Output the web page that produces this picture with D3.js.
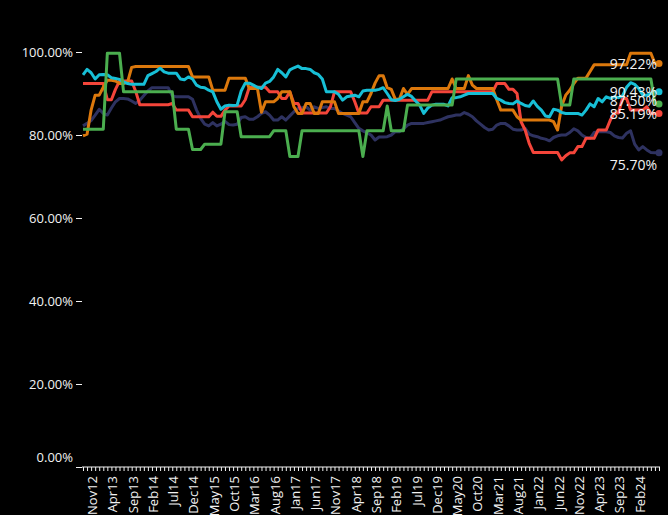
<!DOCTYPE html>
<html>
<head>
<meta charset="utf-8">
<script src="https://cdn.jsdelivr.net/npm/d3@7"></script>
<style>
  html, body { margin: 0; padding: 0; background: #000; }
  svg { display: block; }
  .axis text { fill: #f2f2f2; font-family: "Open Sans", sans-serif; }
  .axis line, .axis path { stroke: #f2f2f2; }
</style>
</head>
<body>
<svg id="chart" width="668" height="515"></svg>
<script>
// Monthly observations, Nov 2012 through Sep 2024
const firstMonth = new Date(2012, 10, 1);
const lastMonth = new Date(2024, 8, 1);

const yTicks = [0, 20, 40, 60, 80, 100];

const seriesOrange = [
  79.8,80.2,86,89.6,89.6,91.5,93.2,93.2,93,92.4,
  92.4,92.8,96.3,96.5,96.5,96.5,96.5,96.5,96.5,96.5,
  96.5,96.5,96.5,96.5,96.5,96.5,96.5,94,94,94,
  94,94,90.8,90.8,90.8,90.8,93.7,93.7,93.7,93.7,
  93.7,91.2,91.2,91.2,85.5,88,88,88,88.8,90.4,
  90.4,90.4,86.8,85.2,85.2,87.6,87.6,85.2,85.2,88,
  88,88,88,85.2,85.2,85.2,85.2,85.2,85.2,88,
  88,90,92.5,94.3,94.3,91.4,91,88.6,88.6,91.2,
  89.8,91.2,91.2,91.2,91.2,91.2,91.2,91.2,91.2,91.2,
  91.2,93.5,91.2,91.2,91.2,94.3,92,91.2,91.2,91.2,
  91.2,91.2,88.5,86,86,86,86,84.4,83.6,83.6,
  83.6,83.6,83.6,83.6,83.6,83.6,83.2,81.2,87,89.6,
  90.8,92.4,93.7,93.7,93.7,95.3,96.9,96.9,96.9,96.9,
  96.9,96.9,96.9,96.9,96.9,99.7,99.7,99.7,99.7,99.7,
  99.7,97.22,97.22
];

const seriesCyan = [
  94.5,95.8,95,93.5,94.5,94.6,94.5,93.8,93.6,93.4,
  92.8,92.4,92.2,92.2,92.2,92.2,94.3,94.8,95.3,96.1,
  95.2,94.9,94.9,94.9,93.5,93.3,94,93.5,92,91.5,
  91.4,90.8,90.4,88,86.2,87,87.2,87.1,87.2,90.6,
  92.5,92.5,92,91.5,91.2,92.5,92.9,94,95.8,95,
  94,95.7,96.2,96.6,96,96,95.8,95,94.6,93.5,
  90.4,90.4,90.4,89.8,88.4,89.2,89.4,89.6,89.2,90.6,
  90.8,90.8,90.8,91,91.4,90,88.5,88.3,88.6,89.2,
  89.8,89.3,88.2,87.2,85.2,86.5,87.2,87.4,87.4,87.4,
  87,89,89,89.2,89.6,90,90,90,90,90,
  90,90,88.8,88.4,87.8,87.6,87.5,88.2,87.6,87.1,
  86.9,88.2,86.9,86,84.6,84.4,86.2,86,85.4,85.2,
  85.2,85.2,85.2,84.8,86,87.5,86.8,88.8,88,89.2,
  88.8,89.2,89,89.4,91.5,92.6,92.2,91.2,89.6,89.6,
  90,90.4,90.43
];

const seriesGreen = [
  81.4,81.4,81.4,81.4,81.4,81.4,99.7,99.7,99.7,99.7,
  90.4,90.4,90.4,90.4,90.4,90.4,90.4,90.4,90.4,90.4,
  90.4,90.4,90.4,81.4,81.4,81.4,81.4,76.5,76.5,76.5,
  77.8,77.8,77.8,77.8,77.8,85.6,85.6,85.6,85.6,79.6,
  79.6,79.6,79.6,79.6,79.6,79.6,79.6,81,81,81,
  81,74.8,74.8,74.8,81,81,81,81,81,81,
  81,81,81,81,81,81,81,81,81,74.8,
  81,81,81,81,81,87,81,81,81,81,
  87.2,87.2,87.2,87.2,87.2,87.2,87.2,87.2,87.2,87.2,
  87.2,87.2,93.5,93.5,93.5,93.5,93.5,93.5,93.5,93.5,
  93.5,93.5,93.5,93.5,93.5,93.5,93.5,93.5,93.5,93.5,
  93.5,93.5,93.5,93.5,93.5,93.5,93.5,93.5,87.2,87.2,
  87.2,93.5,93.5,93.5,93.5,93.5,93.5,93.5,93.5,93.5,
  93.5,93.5,93.5,93.5,93.5,93.5,93.5,93.5,93.5,93.5,
  93.5,87.5,87.5
];

const seriesRed = [
  92.4,92.4,92.4,92.4,92.4,92.4,88.5,88.5,91,93,
  93,93,93,90.5,87.3,87.3,87.3,87.3,87.3,87.3,
  87.3,87.3,87.6,86,86,86,86,84.4,84.4,84.4,
  84.4,84.4,85.5,84.5,84.5,86,87,87,87,87,
  88.5,91.5,91.5,91.5,91.5,91.5,90.4,90.4,90.4,88.8,
  88.8,90.4,87.6,87.6,85.3,85.3,85.3,85.3,85.3,85.3,
  85.3,86.8,90.4,90.4,90.4,90.4,90.4,88,85.3,85.3,
  85.3,86.8,86.8,86.8,88.4,88.4,88.4,88.4,88.4,88.4,
  88.4,88.4,88.4,88.4,88.4,88.4,90.4,90.4,90.4,90.4,
  90.4,90.4,90.4,90.4,90.4,90.4,90.4,90.4,90.4,90.4,
  90.4,90.4,92.4,92.4,92.4,91,91,90,83.2,81.2,
  78,75.8,75.8,75.8,75.8,75.8,75.8,75.8,74,75,
  75.7,75.7,77.2,77.2,79.2,79.2,79.2,81.2,81.2,81.2,
  83.6,85.3,85.3,88.8,88.8,86,86,86,86,86.8,
  85.2,85.2,85.19
];

const seriesNavy = [
  82.2,82.8,83.5,84.8,86.2,85.2,84.8,86.5,88,88.8,
  88.8,88.7,88.2,87.6,88.4,89.5,90.6,91.4,91.4,91.4,
  91.4,91.4,89.5,89.2,89.2,89.2,89.2,88.6,86,84,
  82.6,82.2,83,82.2,82.6,83.3,82.5,82.4,82.6,84.2,
  84.4,83.8,83.8,84.4,85.2,85.6,84.8,83.6,83.6,84.4,
  83.6,84.6,85.6,86.4,86.6,86.8,86,86.8,86.4,86.6,
  86.8,86.4,86.4,85.8,85.2,84.8,84.4,83,81.6,81,
  80.5,80,78.8,79.5,79.5,79.6,80,80.8,80.8,81.5,
  82.4,82.8,82.8,82.8,82.8,83,83.2,83.4,83.6,84,
  84.4,84.6,84.8,84.8,85.4,85,84.4,83.4,82.6,81.8,
  81.2,81.4,82.4,82.8,82.8,82.2,81.4,81.2,81.2,81.6,
  80.2,79.8,79.6,79.2,79,78.6,79.4,79.8,80,80,
  80.6,81.5,81,80,79.4,79.2,80.6,80.8,80.8,80.8,
  80.6,79.8,79.4,79.3,80.4,81,77.8,76.4,77.2,76.4,
  75.8,75.7,75.7
];

// Drawing order (later = on top), colour and end-label nudge per series
const series = [
  { values: seriesNavy,   color: "#2e3260", labelDy: 17 },
  { values: seriesRed,    color: "#f4453a", labelDy: 6 },
  { values: seriesOrange, color: "#dc780c", labelDy: 5 },
  { values: seriesCyan,   color: "#17bfd6", labelDy: 5 },
  { values: seriesGreen,  color: "#4bae4f", labelDy: 2 }
];

const months = d3.timeMonth.range(firstMonth, d3.timeMonth.offset(lastMonth, 1));
const fmtMonth = d3.timeFormat("%b%y");
const lastLabelled = 135; // labels past this index would run off the right edge

const svg = d3.select("#chart");
svg.append("rect").attr("width", 668).attr("height", 515).attr("fill", "#000");

const x = d3.scalePoint().domain(months.map(d => +d)).range([83, 659]);
const y = d3.scaleLinear().domain([0, 100]).range([467, 52]);

// y axis
const yAxis = svg.append("g")
  .attr("class", "axis")
  .attr("transform", "translate(82,0)")
  .call(d3.axisLeft(y).tickValues(yTicks).tickSize(6).tickPadding(3)
        .tickFormat(d => d.toFixed(2) + "%"));
yAxis.select(".domain").remove();
yAxis.selectAll("text").style("font-size", "13px");
// lift the zero label clear of the x axis line
yAxis.selectAll(".tick").filter(d => d === 0).select("text").attr("dy", "-0.45em");

// x axis: a tick every month, label every fifth month
const xAxis = svg.append("g")
  .attr("class", "axis")
  .attr("transform", "translate(0,467)")
  .call(d3.axisBottom(x).tickSize(4).tickSizeOuter(0)
        .tickFormat((d, i) => (i % 5 === 0 && i <= lastLabelled) ? fmtMonth(new Date(d)) : ""));
xAxis.select(".domain").attr("d", "M82,0H660");
xAxis.selectAll("text")
  .style("font-size", "13px")
  .attr("y", 9)
  .attr("x", -9)
  .attr("dy", "0.35em")
  .attr("transform", "rotate(-90)")
  .style("text-anchor", "end");

// lines
const line = d3.line()
  .x((d, i) => x(+months[i]))
  .y(d => y(d));

const g = svg.append("g");
series.forEach(s => {
  g.append("path")
    .datum(s.values)
    .attr("fill", "none")
    .attr("stroke", s.color)
    .attr("stroke-width", 3)
    .attr("stroke-linejoin", "round")
    .attr("d", line);
});

// end markers and value labels
series.forEach(s => {
  const n = s.values.length - 1;
  const last = s.values[n];
  g.append("circle")
    .attr("cx", x(+months[n]))
    .attr("cy", y(last))
    .attr("r", 3.5)
    .attr("fill", s.color);
});
series.forEach(s => {
  const n = s.values.length - 1;
  const last = s.values[n];
  g.append("text")
    .attr("x", 657)
    .attr("y", y(last) + s.labelDy)
    .attr("text-anchor", "end")
    .attr("fill", "#f2f2f2")
    .style("font-family", "'Open Sans', sans-serif")
    .style("font-size", "14px")
    .text(last.toFixed(2) + "%");
});
</script>
</body>
</html>
